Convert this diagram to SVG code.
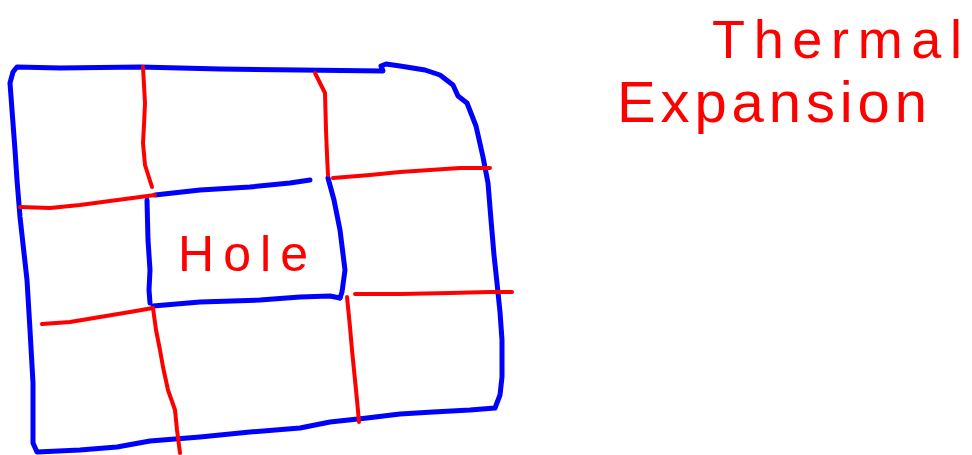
<svg xmlns="http://www.w3.org/2000/svg" width="972" height="455" viewBox="0 0 972 455">
<style>
.blue{fill:none;stroke:#0000ff;stroke-width:5;stroke-linecap:round;stroke-linejoin:round}
.red{fill:none;stroke:#ff0000;stroke-width:4;stroke-linecap:round;stroke-linejoin:round}
.lbl{fill:#ff0000;font-family:"Liberation Sans","DejaVu Sans",sans-serif}
</style>
<rect width="972" height="455" fill="#ffffff"/>
<g id="plate">
<path class="blue" d="M17,67 L60,68 L140,67 L220,69 L300,70 L383,71 L381,66 L386,64 L400,66 L425,70 L440,75 L453,85 L458,96 L467,103 L476,126 L483,157 L488,183 L491,220 L494,255 L497,283 L500,312 L502,340 L502,377 L500,395 L495,408 L470,410 L433,412 L400,414 L367,418 L330,422 L300,428 L250,432 L200,437 L150,441 L117,447 L80,450 L37,452 L33,443 L33,383 L30,330 L27,280 L20,217 L17,180 L15,150 L12,110 L10,83 L13,72 Z"/>
</g>
<g id="hole">
<path class="blue" d="M155,195 L200,190 L250,187 L290,183 L310,180"/>
<path class="blue" d="M147,200 L148,240 L150,270 L149,290 L150,303"/>
<path class="blue" d="M153,306 L200,302 L260,300 L300,297 L330,296 L340,298"/>
<path class="blue" d="M328,178 L334,200 L340,230 L345,270 L342,292 L340,298"/>
<text class="lbl" x="178" y="271" font-size="50" textLength="130" lengthAdjust="spacing">Hole</text>
</g>
<g id="connectors">
<path class="red" d="M143,67 L144,85 L145,103 L144,125 L143,143 L145,165 L152,187"/>
<path class="red" d="M315,73 L320,83 L325,93 L326,130 L327,155 L328,175"/>
<path class="red" d="M20,207 L50,208 L80,205 L110,201 L155,195"/>
<path class="red" d="M333,178 L370,175 L400,172 L430,170 L460,168 L490,168"/>
<path class="red" d="M42,324 L70,322 L100,317 L130,312 L153,308"/>
<path class="red" d="M153,308 L156,330 L160,350 L163,367 L168,390 L175,410 L177,430 L180,453"/>
<path class="red" d="M347,297 L350,327 L352,350 L355,380 L357,400 L359,422"/>
<path class="red" d="M355,294 L400,294 L450,293 L490,292 L512,292"/>
</g>
<g id="title">
<text class="lbl" x="712" y="58" font-size="54" textLength="250" lengthAdjust="spacing">Thermal</text>
<text class="lbl" x="617" y="122" font-size="58" textLength="310" lengthAdjust="spacing">Expansion</text>
</g>
</svg>
